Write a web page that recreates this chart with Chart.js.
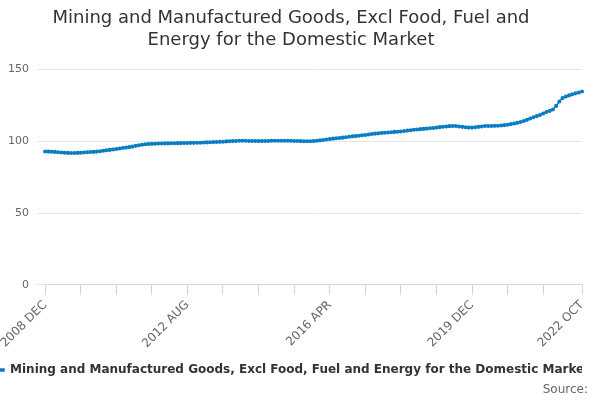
<!DOCTYPE html>
<html>
<head>
<meta charset="utf-8">
<script src="https://cdn.jsdelivr.net/npm/chart.js@4"></script>
<style>
  body { margin: 0; background: #fff; font-family: "DejaVu Sans", sans-serif; }
  #wrap { position: relative; width: 600px; height: 400px; }
  #source { position: absolute; right: 12px; bottom: 4px; font-size: 12px; color: #666; }
</style>
</head>
<body>
<div id="wrap">
  <canvas id="chart" width="600" height="400"></canvas>
  <div id="source">Source:</div>
</div>
<script>
// Index values, monthly from 2008 DEC to 2022 OCT
const values = [
  92.8, 92.7, 92.6, 92.5, 92.3, 92.1, 91.9, 91.8, 91.7, 91.7, 91.8, 91.9,
  92.1, 92.3, 92.4, 92.5, 92.7, 93.0, 93.3, 93.6, 93.9, 94.2, 94.5, 94.9,
  95.2, 95.5, 95.8, 96.2, 96.7, 97.1, 97.5, 97.8, 98.0, 98.1, 98.2, 98.3,
  98.3, 98.4, 98.4, 98.5, 98.5, 98.6, 98.6, 98.7, 98.7, 98.8, 98.8, 98.9,
  98.9, 99.0, 99.1, 99.2, 99.3, 99.4, 99.5, 99.6, 99.8, 99.9, 100.0, 100.1,
  100.2, 100.2, 100.2, 100.1, 100.1, 100.1, 100.0, 100.0, 100.1, 100.1, 100.2, 100.2,
  100.2, 100.3, 100.3, 100.2, 100.2, 100.1, 100.1, 100.0, 99.9, 99.9, 99.9, 100.0,
  100.2, 100.5, 100.8, 101.1, 101.4, 101.7, 102.0, 102.2, 102.4, 102.7, 103.0, 103.3,
  103.5, 103.7, 104.0, 104.3, 104.6, 104.9, 105.2, 105.4, 105.6, 105.8, 106.0, 106.2,
  106.4, 106.5, 106.7, 107.0, 107.3, 107.6, 107.9, 108.1, 108.3, 108.5, 108.7, 108.9,
  109.1, 109.4, 109.7, 110.0, 110.2, 110.4, 110.5, 110.5, 110.2, 109.9, 109.6, 109.4,
  109.4, 109.6, 109.9, 110.2, 110.5, 110.5, 110.5, 110.6, 110.7, 110.9, 111.1, 111.4,
  111.8, 112.2, 112.7, 113.3, 114.0, 114.8, 115.7, 116.6, 117.4, 118.2, 119.2, 120.2,
  121.0, 122.0, 124.5, 127.5, 130.0, 131.0, 131.8, 132.5, 133.2, 133.8, 134.5
];
const monthNames = ['JAN', 'FEB', 'MAR', 'APR', 'MAY', 'JUN', 'JUL', 'AUG', 'SEP', 'OCT', 'NOV', 'DEC'];
const startYear = 2008, startMonth = 11;
const labels = values.map((v, i) => {
    const m = startMonth + i;
    return (startYear + Math.floor(m / 12)) + ' ' + monthNames[m % 12];
});
const yTicks = [0, 50, 100, 150];
const seriesName = 'Mining and Manufactured Goods, Excl Food, Fuel and Energy for the Domestic Market';
const last = values.length - 1;

new Chart(document.getElementById('chart'), {
    type: 'line',
    data: {
        labels: labels,
        datasets: [{
            label: seriesName,
            data: values,
            borderColor: '#0a7dc4',
            backgroundColor: '#0a7dc4',
            borderWidth: 1.5,
            pointRadius: 1.3,
            pointHoverRadius: 3,
            tension: 0
        }]
    },
    options: {
        responsive: false,
        animation: false,
        layout: { padding: { left: 0, right: 18, top: 0, bottom: 14 } },
        plugins: {
            title: {
                display: true,
                text: ['Mining and Manufactured Goods, Excl Food, Fuel and', 'Energy for the Domestic Market'],
                color: '#333',
                font: { family: 'DejaVu Sans', size: 18, weight: 'normal', lineHeight: 1.2 },
                padding: { top: 8, bottom: 18 }
            },
            legend: {
                position: 'bottom',
                labels: {
                    color: '#333',
                    font: { family: 'DejaVu Sans', size: 12, weight: 'bold' },
                    boxWidth: 12, boxHeight: 2
                }
            }
        },
        scales: {
            x: {
                afterBuildTicks: axis => {
                    axis.ticks = axis.ticks.filter(t => t.value % 11 === 0 && t.value < 160 || t.value === last);
                },
                ticks: {
                    autoSkip: false,
                    maxRotation: 45, minRotation: 45,
                    color: '#666',
                    font: { family: 'DejaVu Sans', size: 12 },
                    callback: (v) => (v % 44 === 0 || v === last) ? labels[v] : ''
                },
                grid: { drawOnChartArea: false, color: '#ccd6eb', tickLength: 10 },
                border: { color: '#ccd6eb' }
            },
            y: {
                min: 0, max: 150,
                afterBuildTicks: axis => { axis.ticks = yTicks.map(v => ({ value: v })); },
                ticks: { color: '#666', font: { family: 'DejaVu Sans', size: 11 }, padding: 8 },
                grid: { color: '#e6e6e6' },
                border: { display: false }
            }
        }
    }
});
</script>
</body>
</html>
